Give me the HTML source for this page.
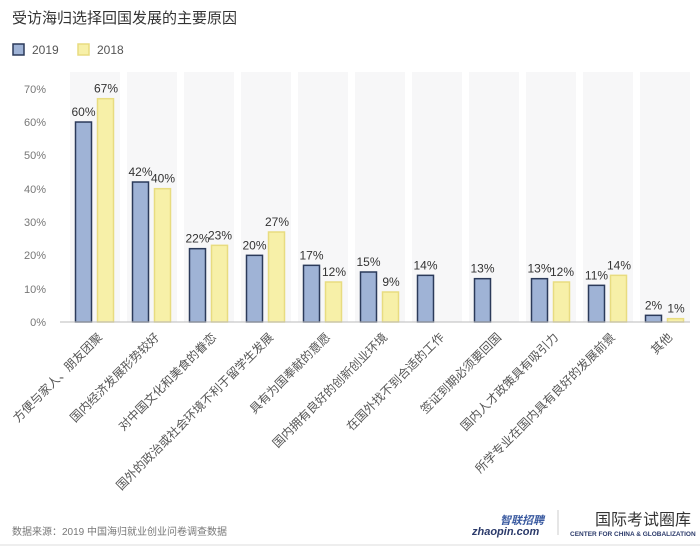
<!DOCTYPE html>
<html><head><meta charset="utf-8"><style>
body{margin:0;background:#fff;}
svg text{font-family:"Liberation Sans","Noto Sans CJK SC",sans-serif;}
</style></head><body>
<svg width="700" height="546" xmlns="http://www.w3.org/2000/svg">
<rect width="700" height="546" fill="#fff"/>
<text x="12" y="23" font-size="15" fill="#333">受访海归选择回国发展的主要原因</text>
<rect x="13" y="44" width="11" height="11" fill="#9fb3d6" stroke="#2b3a5a" stroke-width="1.5"/>
<text x="32" y="54" font-size="12" fill="#555">2019</text>
<rect x="78" y="44" width="11" height="11" fill="#f7f0a8" stroke="#e8dc80" stroke-width="1.5"/>
<text x="97" y="54" font-size="12" fill="#555">2018</text>
<g id="bands"></g>
<g font-size="11" fill="#777" text-anchor="end">
<text x="46" y="93">70%</text><text x="46" y="126">60%</text><text x="46" y="159">50%</text>
<text x="46" y="193">40%</text><text x="46" y="226">30%</text><text x="46" y="259">20%</text>
<text x="46" y="293">10%</text><text x="46" y="326">0%</text>
</g>
<g id="chart"></g>
<line x1="60" y1="322" x2="690" y2="322" stroke="#bbb" stroke-width="1"/>
<g id="labels" font-size="12" fill="#555"></g>
<text x="12" y="535" font-size="10" fill="#777">数据来源：2019 中国海归就业创业问卷调查数据</text>
<text x="500" y="524" font-size="11" font-style="italic" font-weight="bold" fill="#3a5aa0">智联招聘</text>
<text x="472" y="535" font-size="11" font-style="italic" font-weight="bold" fill="#2b3a6a">zhaopin.com</text>
<line x1="558" y1="510" x2="558" y2="535" stroke="#ccc"/>
<text x="595" y="525" font-size="16" fill="#333">国际考试圈库</text>
<text x="570" y="536" font-size="6.5" font-weight="bold" fill="#2b3a6a">CENTER FOR CHINA &amp; GLOBALIZATION</text>
<line x1="0" y1="545" x2="700" y2="545" stroke="#ddd"/>
</svg>
<script>
const ns="http://www.w3.org/2000/svg";
const v19=[60,42,22,20,17,15,14,13,13,11,2];
const v18=[67,40,23,27,12,9,null,null,12,14,1];
const labs=["方便与家人、朋友团聚","国内经济发展形势较好","对中国文化和美食的眷恋","国外的政治或社会环境不利于留学生发展","具有为国奉献的意愿","国内拥有良好的创新创业环境","在国外找不到合适的工作","签证到期必须要回国","国内人才政策具有吸引力","所学专业在国内具有良好的发展前景","其他"];
const bands=document.getElementById('bands'),ch=document.getElementById('chart'),lb=document.getElementById('labels');
function el(t,a,p,txt){const e=document.createElementNS(ns,t);for(const k in a)e.setAttribute(k,a[k]);if(txt)e.textContent=txt;p.appendChild(e);return e;}
const base=322,s=3.333;
for(let i=0;i<11;i++){
 const x0=70+57*i;
 el('rect',{x:x0,y:72,width:50,height:250,fill:'#f7f7f8'},bands);
 const h1=v19[i]*s;
 el('rect',{x:x0+5.5,y:base-h1,width:16,height:h1,fill:'#9fb3d6',stroke:'#2b3a5a','stroke-width':1.5},ch);
 el('text',{x:x0+13.5,y:base-h1-6,'font-size':12,fill:'#333','text-anchor':'middle'},ch,v19[i]+'%');
 if(v18[i]!==null){const h2=v18[i]*s;
 el('rect',{x:x0+27.5,y:base-h2,width:16,height:h2,fill:'#f7f0a8',stroke:'#e8dc80','stroke-width':1.5},ch);
 el('text',{x:x0+36,y:base-h2-6,'font-size':12,fill:'#333','text-anchor':'middle'},ch,v18[i]+'%');}
 const cx=x0+33,cy=338;
 el('text',{x:cx,y:cy,'text-anchor':'end',transform:`rotate(-45 ${cx} ${cy})`},lb,labs[i]);
}
</script>
</body></html>
